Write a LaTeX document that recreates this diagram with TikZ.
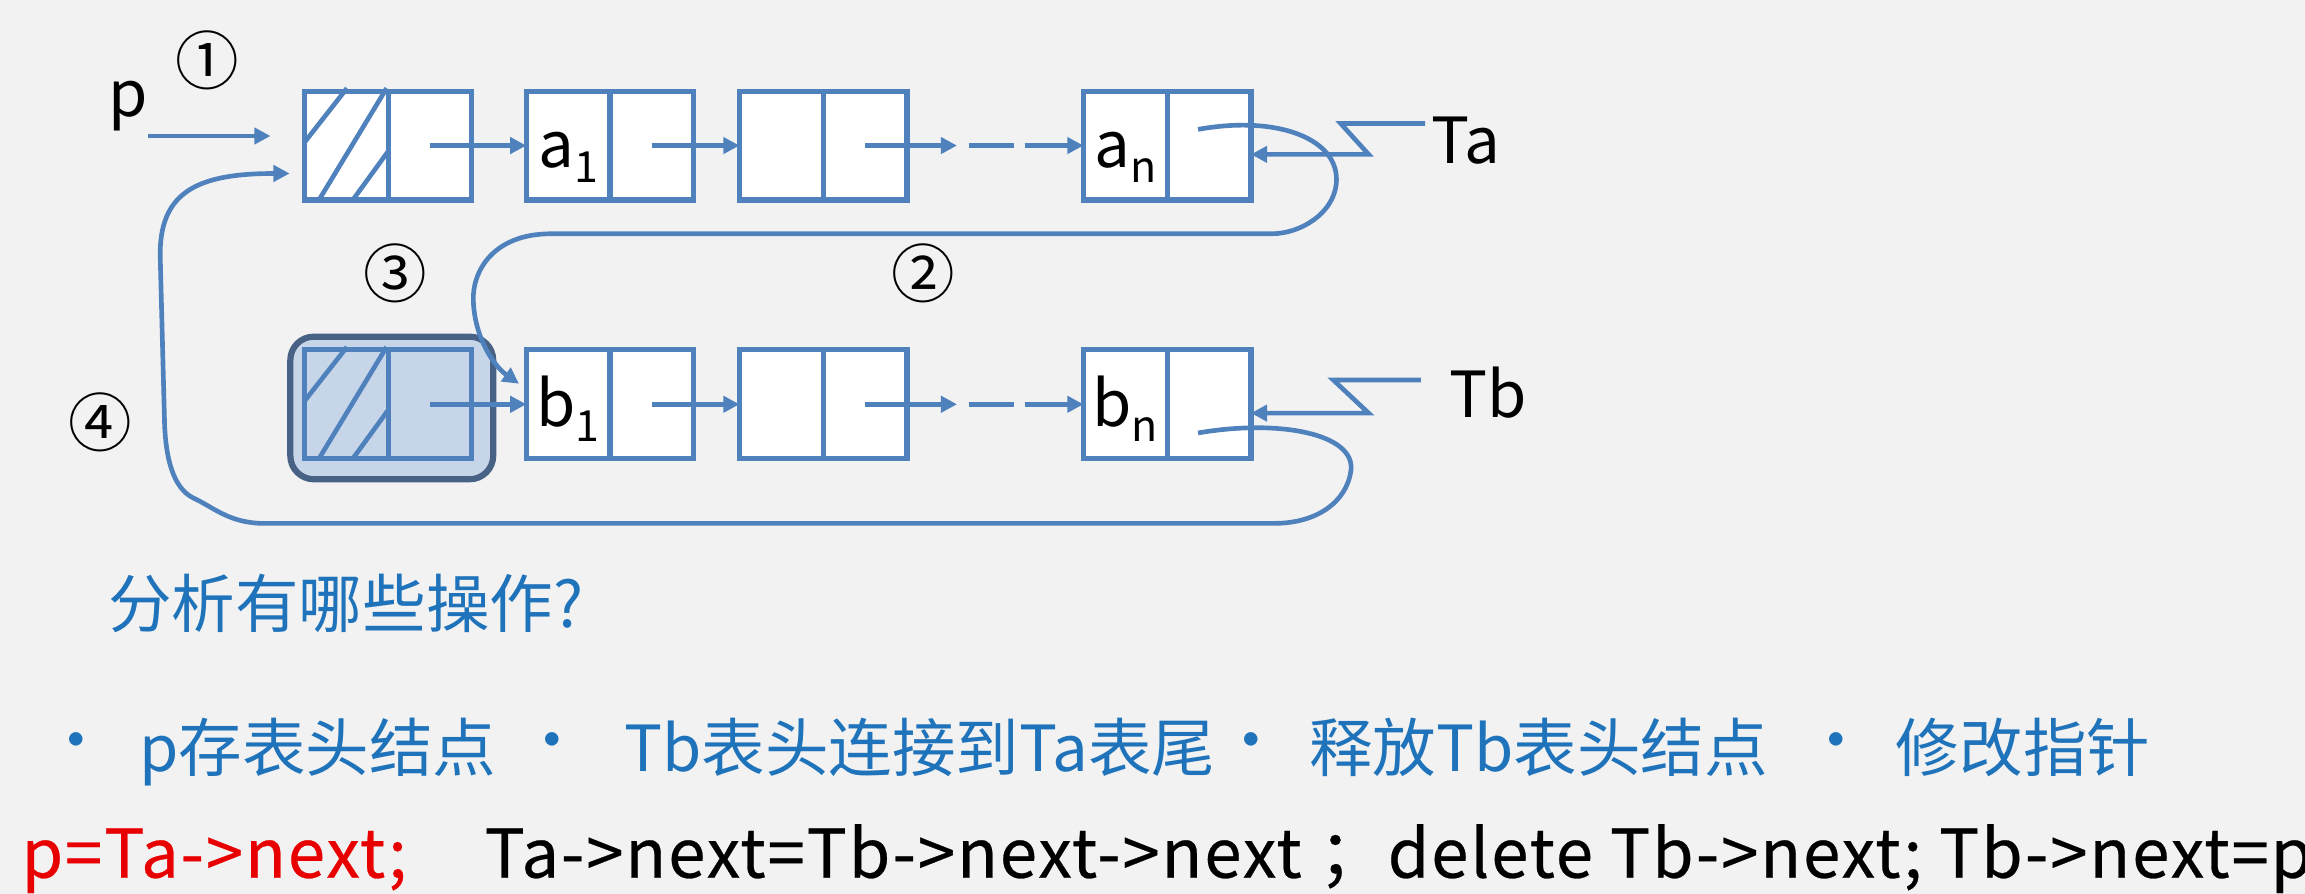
\documentclass[tikz,border=0pt]{standalone}
\usepackage{fontspec}
\usepackage{tikz}
\usetikzlibrary{arrows.meta, positioning, calc}
\newfontfamily\cjk{Noto Sans CJK SC}
\definecolor{boxblue}{RGB}{79,129,189}
\definecolor{textblue}{RGB}{31,115,186}
\definecolor{codered}{RGB}{232,0,0}
\definecolor{bggray}{RGB}{242,242,242}
\definecolor{shadefill}{RGB}{199,213,232}
\definecolor{shadeedge}{RGB}{72,98,134}
\newcommand{\dsub}[2]{#1\raisebox{-0.24em}{\fontsize{8.3}{9}\selectfont #2}}

\begin{document}
\begin{tikzpicture}[
  every node/.style={font=\cjk\fontsize{12.3}{14}\selectfont},
  cell/.style={draw=boxblue, line width=1pt, fill=white, minimum width=0.57cm,
               inner sep=0pt, outer sep=0pt, text height=0.52cm, text depth=0.22cm},
  frame/.style={draw=shadeedge, fill=shadefill, line width=1.2pt,
                rounded corners=0.16cm, minimum width=1.38cm, minimum height=0.97cm},
  arr/.style={draw=boxblue, line width=0.9pt, -{Triangle[length=1.1mm,width=1.1mm]}},
  link/.style={draw=boxblue, line width=0.9pt},
  hatch/.style={draw=boxblue, line width=0.9pt},
  lab/.style={inner sep=1pt, anchor=base},
  num/.style={inner sep=0pt},
  qtxt/.style={text=textblue, anchor=base west, inner sep=0pt},
  dot/.style={text=textblue, inner sep=0pt},
  code/.style={anchor=base west, inner sep=0pt,
               font=\cjk\fontsize{13}{15}\selectfont\addfontfeature{LetterSpace=2.8,FakeBold=0.4}}
]
  \useasboundingbox (0,0) rectangle (15.68,-6.08);
  \fill[bggray] (0,0) rectangle (15.68,-6.08);

  % list Ta
  \node[cell] (hA) at (2.355,-0.99) {};
  \node[cell] (hAp) [right=0pt of hA] {};
  \node[cell] (a1) at (3.865,-0.99) {\dsub{a}{1}};
  \node[cell] (a1p) [right=0pt of a1] {};
  \node[cell] (a2) at (5.315,-0.99) {};
  \node[cell] (a2p) [right=0pt of a2] {};
  \node[cell] (an) at (7.655,-0.99) {\dsub{a}{n}};
  \node[cell] (anp) [right=0pt of an] {};

  % list Tb, its head node shaded
  \node[frame] (hBf) at (2.665,-2.775) {};
  \node[cell, fill=none] (hB) at (2.355,-2.75) {};
  \node[cell, fill=none] (hBp) [right=0pt of hB] {};
  \node[cell] (b1) at (3.865,-2.75) {\dsub{b}{1}};
  \node[cell] (b1p) [right=0pt of b1] {};
  \node[cell] (b2) at (5.315,-2.75) {};
  \node[cell] (b2p) [right=0pt of b2] {};
  \node[cell] (bn) at (7.655,-2.75) {\dsub{b}{n}};
  \node[cell] (bnp) [right=0pt of bn] {};

  \foreach \h in {hA,hB} {
    \draw[hatch] ($(\h.south west)+(0,0.39)$) -- ($(\h.south west)+(0.29,0.76)$);
    \draw[hatch] ($(\h.south west)+(0.10,0)$) -- ($(\h.south west)+(0.56,0.76)$);
    \draw[hatch] ($(\h.south west)+(0.33,0)$) -- ($(\h.south west)+(0.57,0.33)$);
  }

  \coordinate (da1) at (6.51,-0.99); \coordinate (da2) at (6.59,-0.99);
  \coordinate (da3) at (6.90,-0.99); \coordinate (da4) at (6.97,-0.99);
  \coordinate (db1) at (6.51,-2.75); \coordinate (db2) at (6.59,-2.75);
  \coordinate (db3) at (6.90,-2.75); \coordinate (db4) at (6.97,-2.75);
  \draw[arr] (hAp.center) -- (a1.west);
  \draw[arr] (a1p.center) -- (a2.west);
  \draw[arr] (a2p.center) -- (da1);
  \draw[link] (da2) -- (da3);
  \draw[arr] (da4) -- (an.west);
  \draw[arr] (hBp.center) -- (b1.west);
  \draw[arr] (b1p.center) -- (b2.west);
  \draw[arr] (b2p.center) -- (db1);
  \draw[link] (db2) -- (db3);
  \draw[arr] (db4) -- (bn.west);

  % head and tail pointers
  \node[lab] (p) at (0.875,-0.795) {p};
  \coordinate (pa) at (1.01,-0.925); \coordinate (pb) at (1.84,-0.925);
  \draw[arr] (pa) -- (pb);
  \node[lab] (ta) at (9.97,-1.11) {Ta};
  \node[lab] (tb) at (10.12,-2.84) {Tb};
  \coordinate (za1) at (9.12,-0.84);  \coordinate (za2) at (9.31,-1.05);
  \coordinate (zb1) at (9.07,-2.585); \coordinate (zb2) at (9.31,-2.81);
  \draw[arr] (ta.west |- za1) -- (za1) -- (za2) -- (za2 -| anp.east);
  \draw[arr] ([xshift=-1.5mm]tb.west |- zb1) -- (zb1) -- (zb2) -- (zb2 -| bnp.east);

  % relinking
  \coordinate (bin) at (3.53,-2.61);
  \coordinate (hin) at (1.97,-1.18);
  \draw[arr] ($(anp.center)+(-0.075,0.11)$) .. controls (8.70,-0.78) and (9.12,-0.95) ..
    (9.09,-1.25) .. controls (9.07,-1.45) and (8.85,-1.59) .. (8.65,-1.59) -- (3.75,-1.59)
    .. controls (3.35,-1.59) and (3.21,-1.85) .. (3.22,-2.05)
    .. controls (3.23,-2.30) and (3.36,-2.49) .. (bin);
  \draw[arr] ($(bnp.center)+(-0.075,-0.195)$) .. controls (8.70,-2.85) and (9.22,-2.95) ..
    (9.19,-3.20) .. controls (9.16,-3.42) and (8.95,-3.56) .. (8.67,-3.56) -- (1.77,-3.56)
    .. controls (1.55,-3.55) and (1.45,-3.45) .. (1.32,-3.39)
    .. controls (1.17,-3.32) and (1.13,-3.10) .. (1.12,-2.90) -- (1.09,-1.75)
    .. controls (1.08,-1.30) and (1.35,-1.18) .. (hin);

  \node[num] (n1) at (1.41,-0.41) {①};
  \node[num] (n2) at (6.28,-1.86) {②};
  \node[num] (n3) at (2.69,-1.86) {③};
  \node[num] (n4) at (0.68,-2.87) {④};

  % question and steps
  \node[qtxt] (q) at (0.73,-4.27) {分析有哪些操作?};
  \node[dot] (d1) at (0.52,-5.09) {•};
  \node[dot] (d2) at (3.76,-5.09) {•};
  \node[dot] (d3) at (8.51,-5.09) {•};
  \node[dot] (d4) at (12.49,-5.09) {•};
  \node[qtxt] (s1) at (0.94,-5.25) {p存表头结点};
  \node[qtxt] (s2) at (4.24,-5.25) {Tb表头连接到Ta表尾};
  \node[qtxt] (s3) at (8.90,-5.25) {释放Tb表头结点};
  \node[qtxt] (s4) at (12.89,-5.25) {修改指针};
  \node[code, text=codered] (c1) at (0.14,-5.97) {p=Ta->next;};
  \node[code] (c2) at (3.29,-5.97) {Ta->next=Tb->next->next ；delete Tb->next; Tb->next=p;};
\end{tikzpicture}
\end{document}
